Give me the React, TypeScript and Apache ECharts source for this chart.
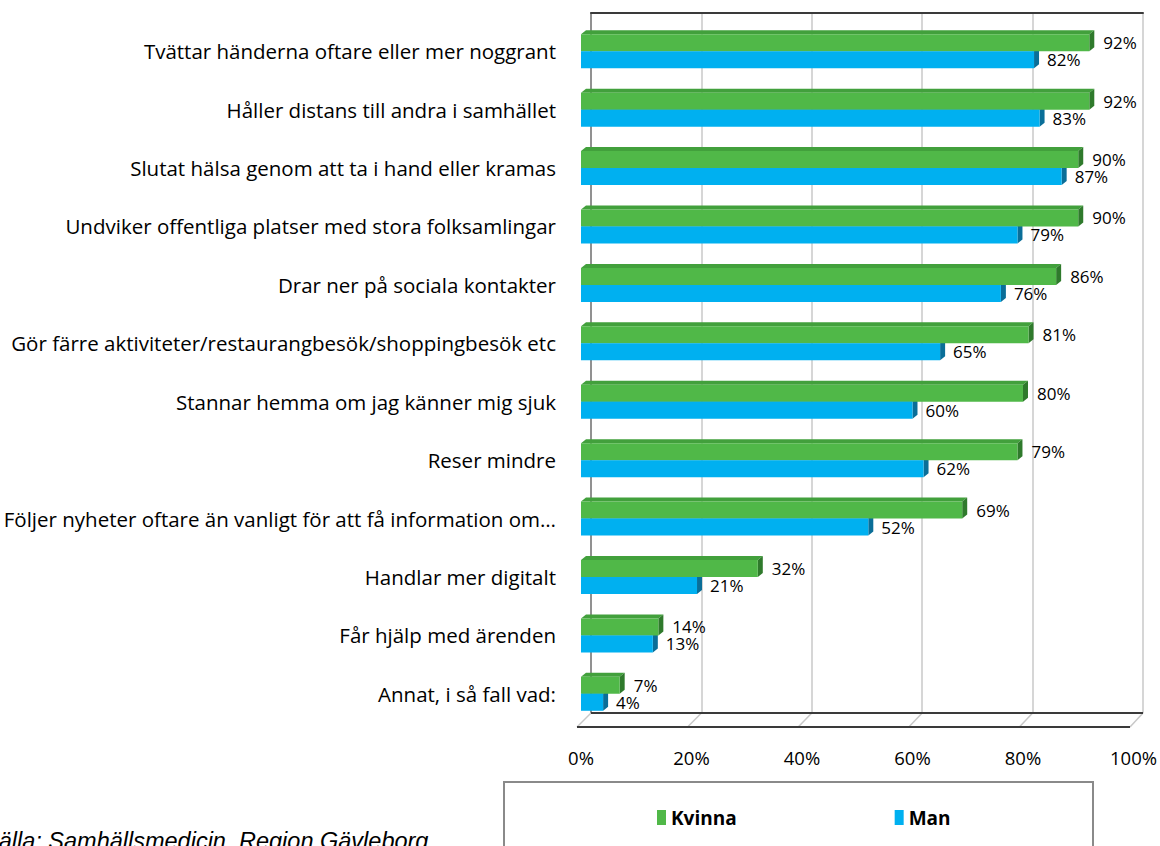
import React, { useEffect, useRef } from "react";
import * as echarts from "echarts";

const categories = [
  "Tvättar händerna oftare eller mer noggrant",
  "Håller distans till andra i samhället",
  "Slutat hälsa genom att ta i hand eller kramas",
  "Undviker offentliga platser med stora folksamlingar",
  "Drar ner på sociala kontakter",
  "Gör färre aktiviteter/restaurangbesök/shoppingbesök etc",
  "Stannar hemma om jag känner mig sjuk",
  "Reser mindre",
  "Följer nyheter oftare än vanligt för att få information om…",
  "Handlar mer digitalt",
  "Får hjälp med ärenden",
  "Annat, i så fall vad:",
];
const kvinna = [92, 92, 90, 90, 86, 81, 80, 79, 69, 32, 14, 7];
const man = [82, 83, 87, 79, 76, 65, 60, 62, 52, 21, 13, 4];
const xTicks = [0, 20, 40, 60, 80, 100];
const seriesNames = ["Kvinna", "Man"];
const sourceText = "Källa: Samhällsmedicin, Region Gävleborg";

const FONT = "Open Sans";
const GREEN = "#50b848";
const GREEN_TOP = "#42a03c";
const GREEN_SIDE = "#2f7a2c";
const BLUE = "#00b0f0";
const BLUE_TOP = "#0995c9";
const BLUE_SIDE = "#0a6e98";

const BACK = { left: 591, top: 13, width: 552, height: 700 };
const FRONT = { left: 581, top: 22, width: 553, height: 701 };
const BW = 17;
const DX = 5;
const DY = 4;
const FLOOR_FRONT_Y = 727;
const FLOOR_FRONT_X0 = 577;
const FLOOR_FRONT_X1 = 1130;

function make3D(isGreen: boolean) {
  return (params: any, api: any) => {
    const v = api.value(0);
    const idx = api.value(1);
    const p0 = api.coord([0, idx]);
    const p1 = api.coord([v, idx]);
    const cy = p1[1];
    const top = isGreen ? cy - BW : cy;
    const bottom = top + BW;
    const x0 = p0[0];
    const x1 = p1[0];
    return {
      type: "group",
      children: [
        {
          type: "polygon",
          shape: { points: [[x0, top], [x1, top], [x1 + DX, top - DY], [x0 + DX, top - DY]] },
          style: { fill: isGreen ? GREEN_TOP : BLUE_TOP },
        },
        {
          type: "polygon",
          shape: { points: [[x1, top], [x1 + DX, top - DY], [x1 + DX, bottom - DY], [x1, bottom]] },
          style: { fill: isGreen ? GREEN_SIDE : BLUE_SIDE },
        },
      ],
    };
  };
}

export default function App() {
  const ref = useRef<HTMLDivElement>(null);
  useEffect(() => {
    if (!ref.current) return;
    const chart = echarts.init(ref.current, null, { renderer: "svg" });

    const floorGraphics: any[] = [];
    const backY = BACK.top + BACK.height;
    floorGraphics.push({
      type: "line",
      shape: { x1: BACK.left, y1: backY, x2: BACK.left + BACK.width, y2: backY },
      style: { stroke: "#3a3a3a", lineWidth: 2 },
      z: 5,
    });
    floorGraphics.push({
      type: "line",
      shape: { x1: FLOOR_FRONT_X0, y1: FLOOR_FRONT_Y, x2: FLOOR_FRONT_X1, y2: FLOOR_FRONT_Y },
      style: { stroke: "#3a3a3a", lineWidth: 2 },
      z: 5,
    });
    xTicks.forEach((t) => {
      const fx = FLOOR_FRONT_X0 + ((FLOOR_FRONT_X1 - FLOOR_FRONT_X0) * t) / 100;
      const bx = BACK.left + (BACK.width * t) / 100;
      floorGraphics.push({
        type: "line",
        shape: { x1: fx, y1: FLOOR_FRONT_Y, x2: bx, y2: backY },
        style: { stroke: "#c8c8c8", lineWidth: 1.5 },
        z: 4,
      });
    });

    chart.setOption({
      animation: false,
      grid: [
        { left: BACK.left, top: BACK.top, width: BACK.width, height: BACK.height },
        { left: FRONT.left, top: FRONT.top, width: FRONT.width, height: FRONT.height },
      ],
      xAxis: [
        {
          gridIndex: 0,
          type: "value",
          position: "top",
          min: 0,
          max: 100,
          interval: 20,
          axisLine: { show: true, onZero: false, lineStyle: { color: "#3a3a3a", width: 2 } },
          axisTick: { show: false },
          axisLabel: { show: false },
          splitLine: { show: true, lineStyle: { color: "#d6d6d6", width: 2 } },
        },
        {
          gridIndex: 1,
          type: "value",
          min: 0,
          max: 100,
          interval: 20,
          axisLine: { show: false },
          axisTick: { show: false },
          splitLine: { show: false },
          axisLabel: {
            formatter: "{value}%",
            fontSize: 18.5,
            fontFamily: FONT,
            color: "#000",
            margin: 25,
          },
        },
      ],
      yAxis: [
        {
          gridIndex: 0,
          type: "value",
          min: 0,
          max: 1,
          axisLine: { show: true, lineStyle: { color: "#7a7a7a", width: 1.5 } },
          axisTick: { show: false },
          axisLabel: { show: false },
          splitLine: { show: false },
        },
        {
          gridIndex: 1,
          type: "category",
          inverse: true,
          data: categories,
          axisLine: { show: false },
          axisTick: { show: false },
          splitLine: { show: false },
          axisLabel: {
            fontSize: 20.5,
            fontFamily: FONT,
            color: "#000",
            margin: 25,
            padding: [8, 0, 0, 0],
          },
        },
      ],
      legend: {
        data: seriesNames,
        left: 652,
        top: 803,
        itemWidth: 9,
        itemHeight: 15,
        itemGap: 158,
        icon: "rect",
        textStyle: { fontFamily: FONT, fontWeight: "bold", fontSize: 19, color: "#000" },
      },
      series: [
        {
          type: "custom",
          name: "k3d",
          xAxisIndex: 1,
          yAxisIndex: 1,
          renderItem: make3D(true),
          data: kvinna.map((v, i) => [v, i]),
          encode: { x: 0, y: 1 },
          clip: false,
          z: 1,
          silent: true,
        },
        {
          type: "custom",
          name: "m3d",
          xAxisIndex: 1,
          yAxisIndex: 1,
          renderItem: make3D(false),
          data: man.map((v, i) => [v, i]),
          encode: { x: 0, y: 1 },
          clip: false,
          z: 1,
          silent: true,
        },
        {
          type: "bar",
          name: seriesNames[0],
          xAxisIndex: 1,
          yAxisIndex: 1,
          data: kvinna,
          barWidth: BW,
          barGap: "0%",
          itemStyle: { color: GREEN },
          z: 3,
          label: {
            show: true,
            position: "right",
            distance: 14,
            formatter: "{c}%",
            fontSize: 17,
            fontFamily: FONT,
            color: "#000",
          },
        },
        {
          type: "bar",
          name: seriesNames[1],
          xAxisIndex: 1,
          yAxisIndex: 1,
          data: man,
          barWidth: BW,
          barGap: "0%",
          itemStyle: { color: BLUE },
          z: 3,
          label: {
            show: true,
            position: "right",
            distance: 13,
            formatter: "{c}%",
            fontSize: 17,
            fontFamily: FONT,
            color: "#000",
          },
        },
      ],
      graphic: [
        ...floorGraphics,
        {
          type: "rect",
          shape: { x: 504, y: 782, width: 589, height: 80 },
          style: { fill: "none", stroke: "#8a8a8a", lineWidth: 2 },
          z: 0,
        },
        {
          type: "text",
          left: -17,
          top: 829,
          style: {
            text: sourceText,
            fontSize: 23.5,
            fontStyle: "italic",
            fontFamily: "Liberation Sans",
            fill: "#000",
          },
        },
      ],
    });
    return () => chart.dispose();
  }, []);
  return (
    <div
      ref={ref}
      style={{ position: "fixed", left: 0, top: 0, width: 1160, height: 846, background: "#fff" }}
    />
  );
}
